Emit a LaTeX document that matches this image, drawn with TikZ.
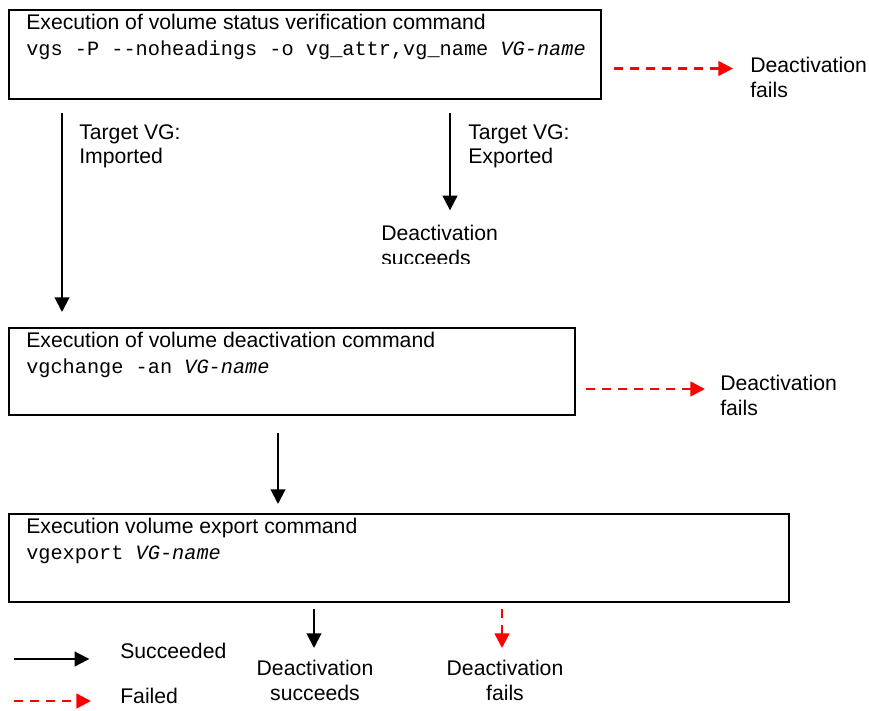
\documentclass[tikz,border=0pt]{standalone}
\usepackage{fontspec}
\setmainfont{Liberation Sans}
\setmonofont{Liberation Mono}
\usetikzlibrary{calc,arrows.meta}

\begin{document}
\begin{tikzpicture}[x=0.75pt, y=-0.75pt, >={Triangle[length=11pt,width=11pt]},
  every node/.style={inner sep=0pt, font=\fontsize{15.9}{18.5}\selectfont},
  cmdbox/.style 2 args={draw, line width=1.5pt, minimum width=#1, minimum height=#2},
  code/.style={font=\ttfamily\fontsize{15.2}{18}\selectfont},
  succ/.style={->, line width=1.5pt},
  fail/.style={->, red, line width=1.9pt, dash pattern=on 6.5pt off 5.5pt}]
  \useasboundingbox (0,0) rectangle (869,711);

  % command boxes
  \node[cmdbox={444pt}{66.75pt}] (box1) at (305,54.5) {};
  \node[anchor=base west] (t1) at ($(box1.north west)+(18,20)$) {Execution of volume status verification command};
  \node[code, anchor=base west] (c1) at ($(box1.north west)+(18,46)$) {vgs -P -{}-noheadings -o vg\_attr,vg\_name \textit{VG-name}};

  \node[cmdbox={424.5pt}{65.25pt}] (box2) at (292,371.5) {};
  \node[anchor=base west] (t2) at ($(box2.north west)+(18,20)$) {Execution of volume deactivation command};
  \node[code, anchor=base west] (c2) at ($(box2.north west)+(18,46)$) {vgchange -an \textit{VG-name}};

  \node[cmdbox={585pt}{66pt}] (box3) at (399,558) {};
  \node[anchor=base west] (t3) at ($(box3.north west)+(18,20)$) {Execution volume export command};
  \node[code, anchor=base west] (c3) at ($(box3.north west)+(18,46)$) {vgexport \textit{VG-name}};

  % labels
  \node[anchor=north west, align=left] (imp) at (79,124) {Target VG:\\Imported};
  \node[anchor=north west, align=left] (exp) at (468,124) {Target VG:\\Exported};
  \begin{scope}
    \clip (370,200) rectangle (520,263);
    \node[anchor=north west, align=left] (ok1) at (381,225) {Deactivation\\succeeds};
  \end{scope}
  \node[anchor=north west, align=left] (fail1) at (750,57) {Deactivation\\fails};
  \node[anchor=north west, align=left] (fail2) at (720,375) {Deactivation\\fails};
  \node[anchor=north, align=center] (ok3) at (315,660) {Deactivation\\succeeds};
  \node[anchor=north, align=center] (fail3) at (505,660) {Deactivation\\fails};

  % status checks
  \draw[succ] ($(box1.south west)+(54,13)$) -- ($(box2.north west)+(54,-15)$);
  \coordinate (e1) at ($(box1.south west)+(442,13)$);
  \draw[succ, shorten >=11pt] (e1) -- (e1 |- ok1.north);
  \coordinate (f1) at ($(box1.east)+(12,14)$);
  \draw[fail, shorten >=12.75pt] (f1) -- (f1 -| fail1.west);

  % deactivation
  \coordinate (f2) at ($(box2.east)+(10,17.5)$);
  \draw[fail, shorten >=11.25pt] (f2) -- (f2 -| fail2.west);
  \draw[succ] ($(box2.south west)+(270,17)$) -- ($(box3.north west)+(270,-9)$);

  % export
  \coordinate (e3) at ($(box3.south west)+(306,6)$);
  \draw[succ, shorten >=9pt] (e3) -- (e3 |- ok3.north);
  \coordinate (f3) at ($(box3.south west)+(494,6)$);
  \draw[fail, shorten >=9pt] (f3) -- (f3 |- fail3.north);

  % legend
  \node[anchor=base west] (lsucc) at (120,658) {Succeeded};
  \node[anchor=base west] (lfail) at (120,703) {Failed};
  \coordinate (l1) at (14,659);
  \coordinate (l2) at (14,701);
  \draw[succ, shorten >=23pt] (l1) -- (l1 -| lsucc.west);
  \draw[fail, shorten >=21.75pt] (l2) -- (l2 -| lfail.west);
\end{tikzpicture}
\end{document}
